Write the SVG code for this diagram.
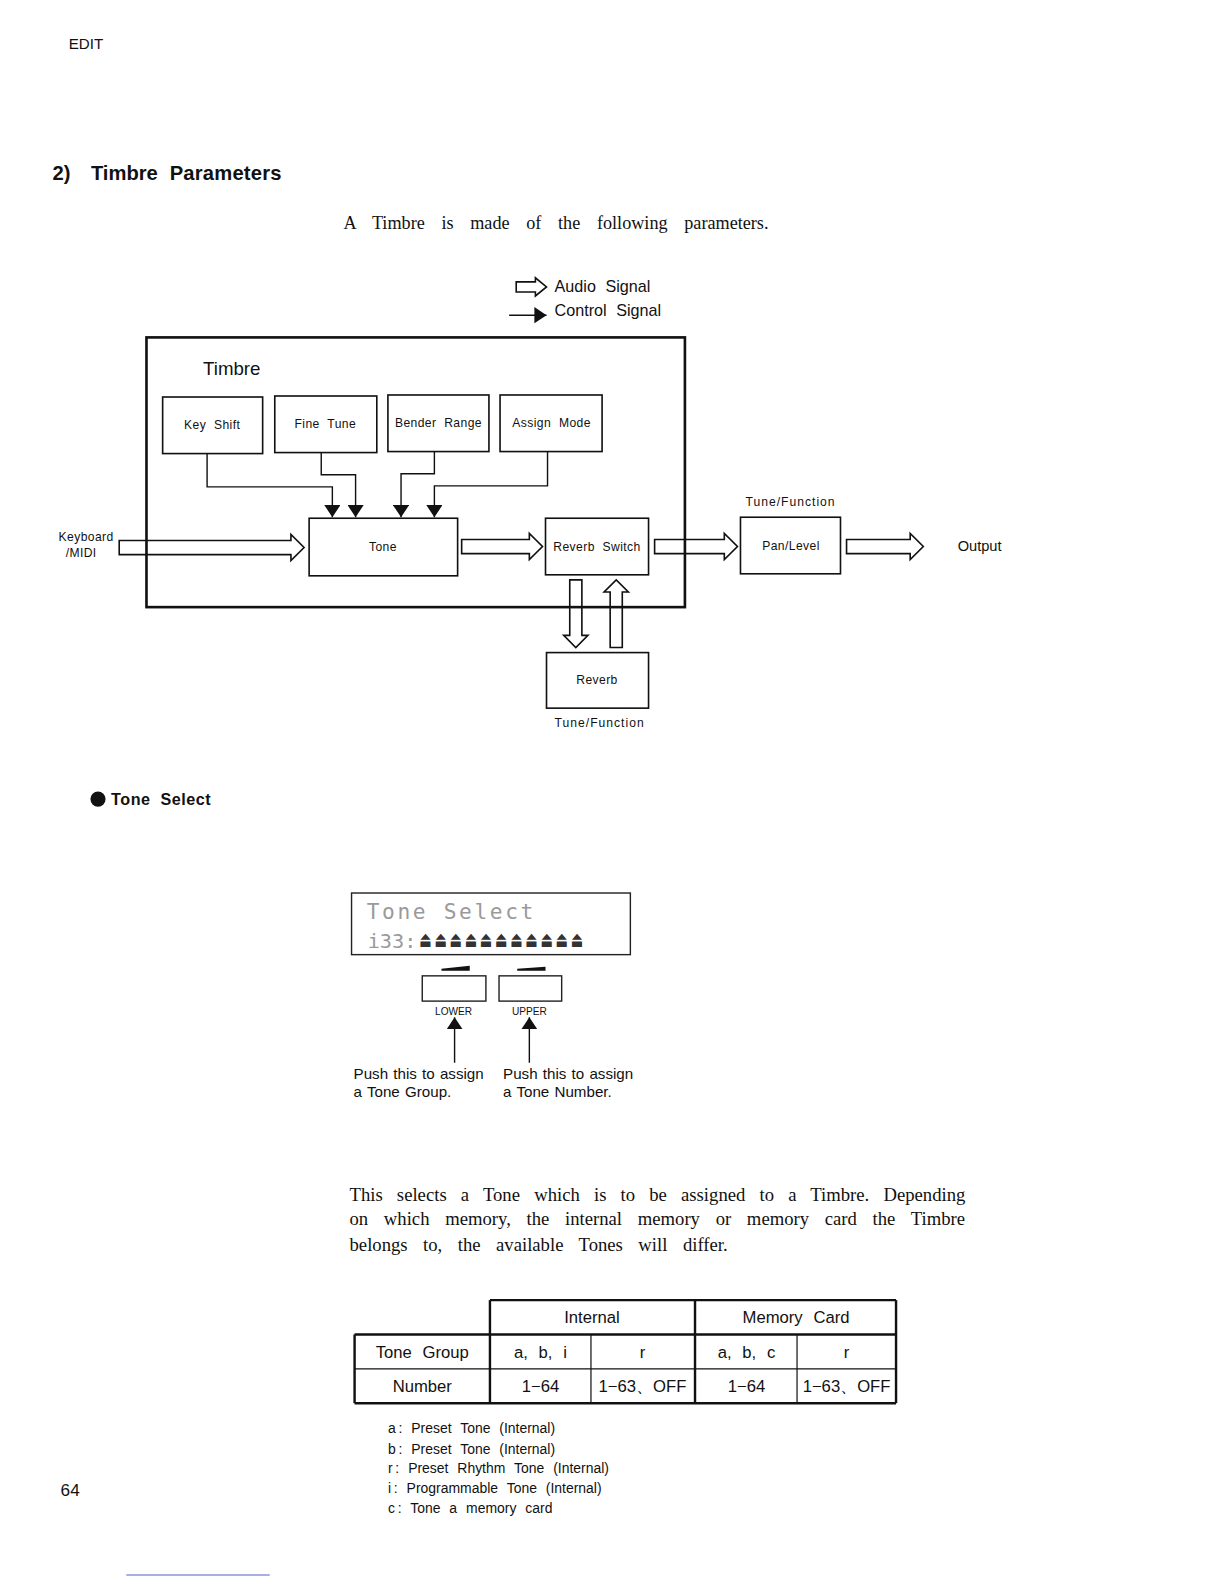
<svg xmlns="http://www.w3.org/2000/svg" width="1224" height="1584" viewBox="0 0 1224 1584">
<defs>
<style>
.s{font-family:"Liberation Sans",Arial,sans-serif;fill:#111}
.sf{font-family:"Liberation Serif","Times New Roman",serif;fill:#111}
.box{fill:#fff;stroke:#111;stroke-width:1.6}
.lbl{font-family:"Liberation Sans",Arial,sans-serif;font-size:12px;fill:#111;text-anchor:middle;word-spacing:4px;letter-spacing:0.4px}
.ctl{fill:none;stroke:#111;stroke-width:1.4}
.aud{fill:none;stroke:#111;stroke-width:1.6;stroke-linejoin:miter}
.thick{stroke:#111;stroke-width:2.4;fill:none}
.thin{stroke:#111;stroke-width:1.2;fill:none}
.tc{font-family:"Liberation Sans",Arial,sans-serif;font-size:16.5px;fill:#111;text-anchor:middle;word-spacing:6px}
.fn{font-family:"Liberation Sans",Arial,sans-serif;font-size:13.8px;fill:#111;word-spacing:5px}
.lcd{font-family:"DejaVu Sans Mono",monospace;fill:#9a9a9a}
.tf{font-family:"Liberation Sans",Arial,sans-serif;font-size:12px;fill:#111;letter-spacing:1px}
</style>
<marker id="ah" viewBox="0 0 12 16" refX="12" refY="8" markerWidth="12" markerHeight="16" markerUnits="userSpaceOnUse" orient="auto">
<path d="M0,0 L12,8 L0,16 Z" fill="#111"/>
</marker>
</defs>
<rect width="1224" height="1584" fill="#fff"/>
<g transform="scale(1.0102)">

<text class="s" x="68" y="49" font-size="15">EDIT</text>
<g id="section-title">
<text class="s" x="52" y="178" font-size="20" font-weight="bold">2)</text>
<text class="s" x="90" y="178" font-size="20" font-weight="bold">Timbre</text>
<text class="s" x="168" y="178" font-size="20" font-weight="bold" letter-spacing="0.2">Parameters</text>
</g>
<text class="sf" x="340" y="227" font-size="18" word-spacing="12">A Timbre is made of the following parameters.</text>

<g id="legend">
<path class="aud" d="M511,279 L530,279 L530,275 L541,284 L530,293 L530,289 L511,289 Z"/>
<text class="s" x="549" y="289" font-size="16" word-spacing="5">Audio Signal</text>
<line x1="504" y1="312" x2="541" y2="312" stroke="#111" stroke-width="1.4" marker-end="url(#ah)"/>
<text class="s" x="549" y="313" font-size="16" word-spacing="5">Control Signal</text>
</g>

<g id="timbre">
<rect x="145" y="334" width="533" height="267" fill="none" stroke="#111" stroke-width="2.6"/>
<text class="s" x="201" y="371" font-size="18.5">Timbre</text>
</g>

<g id="connectors">
<path class="ctl" d="M205,449 V482 H329 V512" marker-end="url(#ah)"/>
<path class="ctl" d="M318,448 V470 H352 V512" marker-end="url(#ah)"/>
<path class="ctl" d="M430,447 V469 H397 V512" marker-end="url(#ah)"/>
<path class="ctl" d="M542,447 V481 H430 V512" marker-end="url(#ah)"/>
<path class="aud" d="M118,535 L288,535 L288,529 L301,542 L288,555 L288,549 L118,549 Z"/>
<path class="aud" d="M457,534 L524,534 L524,528 L537,541 L524,554 L524,548 L457,548 Z"/>
<path class="aud" d="M648,534 L717,534 L717,528 L730,541 L717,554 L717,548 L648,548 Z"/>
<path class="aud" d="M838,534 L901,534 L901,528 L914,541 L901,554 L901,548 L838,548 Z"/>
<path class="aud" d="M564,574 L576,574 L576,629 L582,629 L570,641 L558,629 L564,629 Z"/>
<path class="aud" d="M604,641 L616,641 L616,586 L622,586 L610,574 L598,586 L604,586 Z"/>
</g>

<g id="key-shift"><rect class="box" x="161" y="393" width="99" height="56"/><text class="lbl" x="210" y="425">Key Shift</text></g>
<g id="fine-tune"><rect class="box" x="272" y="392" width="101" height="56"/><text class="lbl" x="322" y="424">Fine Tune</text></g>
<g id="bender-range"><rect class="box" x="384" y="391" width="100" height="56"/><text class="lbl" x="434" y="423">Bender Range</text></g>
<g id="assign-mode"><rect class="box" x="495" y="391" width="101" height="56"/><text class="lbl" x="546" y="423">Assign Mode</text></g>
<g id="tone"><rect class="box" x="306" y="513" width="147" height="57"/><text class="lbl" x="379" y="545">Tone</text></g>
<g id="reverb-switch"><rect class="box" x="540" y="513" width="102" height="56"/><text class="lbl" x="591" y="545">Reverb Switch</text></g>
<g id="pan-level"><rect class="box" x="733" y="512" width="99" height="56"/><text class="lbl" x="783" y="544">Pan/Level</text></g>
<g id="reverb"><rect class="box" x="541" y="646" width="101" height="55"/><text class="lbl" x="591" y="677">Reverb</text></g>

<g id="labels">
<text class="s" x="58" y="536" font-size="12" letter-spacing="0.4">Keyboard</text>
<text class="s" x="65" y="551" font-size="12" letter-spacing="0.4">/MIDI</text>
<text class="tf" x="738" y="501">Tune/Function</text>
<text class="tf" x="549" y="720">Tune/Function</text>
<text class="s" x="948" y="545" font-size="14.5">Output</text>
</g>

<g id="tone-select-heading">
<circle cx="97" cy="791" r="7.5" fill="#111"/>
<text class="s" x="110" y="797" font-size="16" font-weight="bold" word-spacing="5" letter-spacing="0.5">Tone Select</text>
</g>

<g id="lcd">
<rect x="348" y="884" width="276" height="61" fill="#fff" stroke="#222" stroke-width="1.4"/>
<text class="lcd" x="363" y="910" font-size="21" letter-spacing="2.6">Tone Select</text>
<text class="lcd" x="364" y="938" font-size="20">i33:</text>
<text x="415 430 445 460 475 490 505 520 535 550 565" y="937" font-family="DejaVu Sans,sans-serif" font-size="13" fill="#333" transform="translate(0,937) scale(1,1.7) translate(0,-937)">⏏⏏⏏⏏⏏⏏⏏⏏⏏⏏⏏</text>
</g>

<g id="lower-button">
<path d="M437,959 L465,956 L465,961 L437,961 Z" fill="#111"/>
<rect x="418" y="966" width="63" height="25" fill="#fff" stroke="#222" stroke-width="1.4"/>
<text class="s" x="449" y="1005" font-size="10" text-anchor="middle">LOWER</text>
<line x1="450" y1="1052" x2="450" y2="1007" stroke="#111" stroke-width="1.4" marker-end="url(#ah)"/>
<text class="s" x="350" y="1068" font-size="15" word-spacing="1">Push this to assign</text>
<text class="s" x="350" y="1086" font-size="15" word-spacing="1">a Tone Group.</text>
</g>
<g id="upper-button">
<path d="M512,959 L540,957 L540,961 L512,961 Z" fill="#111"/>
<rect x="494" y="966" width="62" height="25" fill="#fff" stroke="#222" stroke-width="1.4"/>
<text class="s" x="524" y="1005" font-size="10" text-anchor="middle">UPPER</text>
<line x1="524" y1="1052" x2="524" y2="1007" stroke="#111" stroke-width="1.4" marker-end="url(#ah)"/>
<text class="s" x="498" y="1068" font-size="15" word-spacing="1">Push this to assign</text>
<text class="s" x="498" y="1086" font-size="15" word-spacing="1">a Tone Number.</text>
</g>

<g id="paragraph">
<text class="sf" x="346" y="1189" font-size="18.5" word-spacing="9.4">This selects a Tone which is to be assigned to a Timbre. Depending</text>
<text class="sf" x="346" y="1213" font-size="18.5" word-spacing="10.9">on which memory, the internal memory or memory card the Timbre</text>
<text class="sf" x="346" y="1238" font-size="18.5" word-spacing="10.7">belongs to, the available Tones will differ.</text>
</g>

<g id="table">
<line class="thin" x1="585" y1="1321" x2="585" y2="1389"/>
<line class="thin" x1="789" y1="1321" x2="789" y2="1389"/>
<line class="thin" x1="351" y1="1355" x2="887" y2="1355"/>
<line class="thick" x1="485" y1="1287" x2="887" y2="1287"/>
<line class="thick" x1="351" y1="1321" x2="887" y2="1321"/>
<line class="thick" x1="351" y1="1389" x2="887" y2="1389"/>
<line class="thick" x1="351" y1="1321" x2="351" y2="1389"/>
<line class="thick" x1="485" y1="1287" x2="485" y2="1389"/>
<line class="thick" x1="688" y1="1287" x2="688" y2="1389"/>
<line class="thick" x1="887" y1="1287" x2="887" y2="1389"/>
<text class="tc" x="586" y="1310">Internal</text>
<text class="tc" x="788" y="1310">Memory Card</text>
<text class="tc" x="418" y="1344">Tone Group</text>
<text class="tc" x="535" y="1344">a, b, i</text>
<text class="tc" x="636" y="1344">r</text>
<text class="tc" x="739" y="1344">a, b, c</text>
<text class="tc" x="838" y="1344">r</text>
<text class="tc" x="418" y="1378">Number</text>
<text class="tc" x="535" y="1378" word-spacing="0">1−64</text>
<text class="tc" x="636" y="1378" word-spacing="0">1−63、OFF</text>
<text class="tc" x="739" y="1378" word-spacing="0">1−64</text>
<text class="tc" x="838" y="1378" word-spacing="0">1−63、OFF</text>
</g>

<g id="footnotes">
<text class="fn" x="384" y="1419">a&#8201;: Preset Tone (Internal)</text>
<text class="fn" x="384" y="1439">b&#8201;: Preset Tone (Internal)</text>
<text class="fn" x="384" y="1458">r&#8201;: Preset Rhythm Tone (Internal)</text>
<text class="fn" x="384" y="1478">i&#8201;: Programmable Tone (Internal)</text>
<text class="fn" x="384" y="1498">c&#8201;: Tone a memory card</text>
</g>

<text class="s" x="60" y="1481" font-size="17">64</text>
<line x1="125" y1="1559" x2="267" y2="1559" stroke="#4a63c9" stroke-width="1"/>
</g>
</svg>
